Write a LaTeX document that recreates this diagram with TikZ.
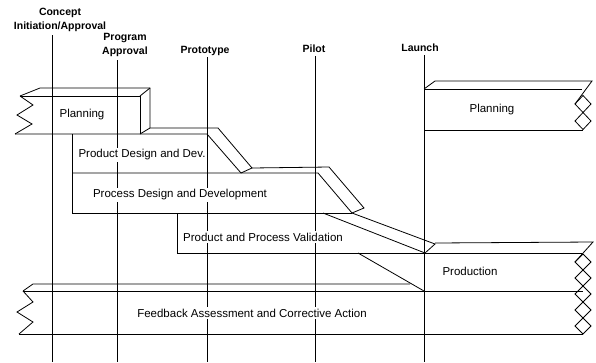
\documentclass[tikz,border=0pt]{standalone}
\usepackage{fontspec}
\setmainfont{Liberation Sans}
\usetikzlibrary{positioning}

\begin{document}
\begin{tikzpicture}
  [
    x=1pt, y=-1pt,
    line width=0.8pt, line join=miter,
    phase/.style = {font=\fontsize{11.5}{13}\selectfont, fill=white, inner sep=1.5pt},
    gate/.style  = {font=\bfseries\fontsize{10.5}{13.5}\selectfont, inner sep=0pt, align=center},
  ]

  \useasboundingbox (0,0) rectangle (596,362);

  % milestone lines
  \foreach \x/\top in {52/35, 117/60, 207/57, 315/56, 424/55}
    {
      \draw (\x,\top) -- (\x,362);
    }

  % left planning bar
  \draw (20,96) -- (33,105) -- (17,115) -- (32,124) -- (15,134); % torn end
  \draw (20,96) -- (140,96) -- (140,134);
  \draw (20,96) -- (40,88) -- (150,88) -- (150,128);
  \draw (140,96) -- (150,88);
  \draw (140,134) -- (150,128);

  % product design and dev. (ramp 1)
  \draw (15,134) -- (207,134) -- (241,173);
  \draw (150,128) -- (218,128) -- (252,168) -- (241,173);
  \draw (72,134) -- (72,213);

  % process design and development (ramp 2)
  \draw (72,173) -- (318,173) -- (352,213);
  \draw (252,168) -- (329,167) -- (364,208) -- (352,213);
  \draw (72,213) -- (352,213);

  % validation (ramp 3)
  \draw (323,213) -- (425,253);
  \draw (352,213) -- (435,244) -- (425,253);
  \draw (177,213) -- (177,253) -- (582,253);
  \draw (358,253) -- (424,291);

  % production, top face
  \draw (435,243) -- (593,242) -- (575,262);

  % feedback bar
  \draw (23,291) -- (33,302) -- (17,312) -- (33,322) -- (19,334); % torn end
  \draw (23,291) -- (583,291);
  \draw (23,291) -- (33,284) -- (410,284);
  \draw (19,334) -- (583,334);
  \foreach \y in {262,278,294,310,326}
    {
      \draw (583,\y-8) -- (591,\y) -- (583,\y+8) -- (575,\y) -- cycle;
    }

  % right planning bar
  \draw (424,89) -- (582,89);
  \draw (424,89) -- (435,81) -- (592,81) -- (575,104);
  \draw (424,130) -- (583,130);
  \foreach \y in {104,121}
    {
      \draw (583,\y-8.5) -- (591,\y) -- (583,\y+8.5) -- (575,\y) -- cycle;
    }

  % milestone labels
  \node (concept)   at (60,20)  [gate] {Concept\\Initiation/Approval};
  \node (program)   at (125,45) [gate] {Program\\Approval};
  \node (prototype) at (205,51) [gate] {Prototype};
  \node (pilot)     at (314,49) [gate] {Pilot};
  \node (launch)    at (420,48) [gate] {Launch};

  % phase labels
  \node (planningA)  at (82,115)  [phase] {Planning};
  \node (design)     at (142,155) [phase] {Product Design and Dev.};
  \node (process)    at (180,195) [phase] {Process Design and Development};
  \node (validation) at (263,237) [phase] {Product and Process Validation};
  \node (production) at (470,271) [phase] {Production};
  \node (feedback)   at (252,313) [phase] {Feedback Assessment and Corrective Action};
  \node (planningB)  at (492,110) [phase] {Planning};

\end{tikzpicture}
\end{document}
